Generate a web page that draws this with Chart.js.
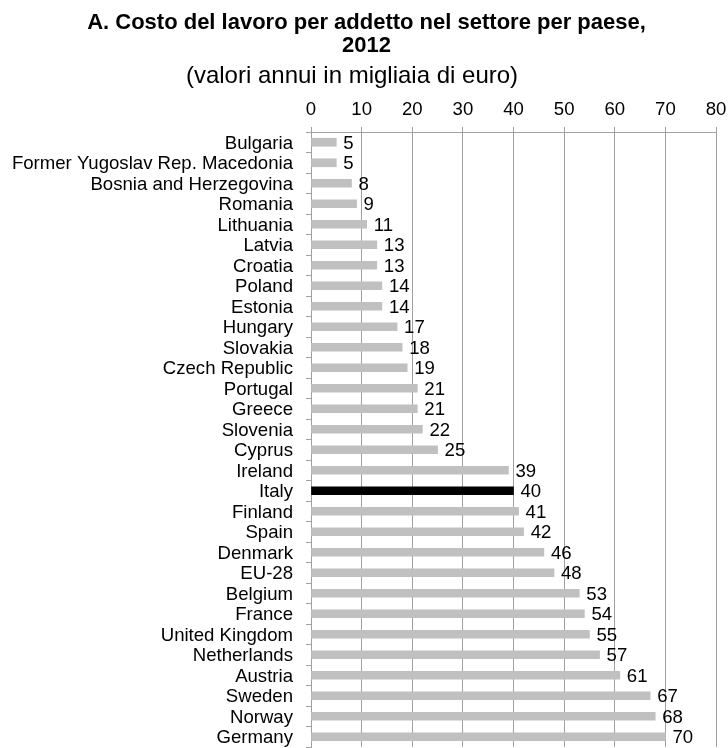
<!DOCTYPE html>
<html>
<head>
<meta charset="utf-8">
<script src="https://cdn.jsdelivr.net/npm/chart.js@4/dist/chart.umd.min.js"></script>
<style>
  html, body { margin: 0; padding: 0; background: #fff; }
  #wrap { position: relative; width: 728px; height: 748px; overflow: hidden;
          font-family: "Liberation Sans", Arial, sans-serif; color: #000; }
  #c { position: absolute; left: 0; top: 0; }
  #title { position: absolute; left: 0; width: 733px; top: 10px; text-align: center;
           font-weight: bold; font-size: 22px; line-height: 23px; }
  #subtitle { position: absolute; left: 0; width: 704px; top: 62px; text-align: center;
              font-size: 24px; line-height: 26px; }
</style>
</head>
<body>
<div id="wrap">
  <canvas id="c" width="728" height="748"></canvas>
  <div id="title">A. Costo del lavoro per addetto nel settore per paese,<br>2012</div>
  <div id="subtitle">(valori annui in migliaia di euro)</div>
</div>
<script>
// Labour cost per employee in the sector, 2012 (thousand euro per year)
const countries = [
  'Bulgaria', 'Former Yugoslav Rep. Macedonia', 'Bosnia and Herzegovina', 'Romania',
  'Lithuania', 'Latvia', 'Croatia', 'Poland', 'Estonia', 'Hungary', 'Slovakia',
  'Czech Republic', 'Portugal', 'Greece', 'Slovenia', 'Cyprus', 'Ireland', 'Italy',
  'Finland', 'Spain', 'Denmark', 'EU-28', 'Belgium', 'France', 'United Kingdom',
  'Netherlands', 'Austria', 'Sweden', 'Norway', 'Germany'
];
const values = [
  5, 5, 8, 9, 11, 13, 13, 14, 14, 17, 18, 19, 21, 21, 22, 25, 39, 40,
  41, 42, 46, 48, 53, 54, 55, 57, 61, 67, 68, 70
];
const highlighted = 'Italy';
const xTicks = [0, 10, 20, 30, 40, 50, 60, 70, 80];

const FONT = '"Liberation Sans", Arial, sans-serif';
const FONT_SIZE = 18.6;
const GRID = '#a0a0a0';
const barColors = countries.map(c => c === highlighted ? '#000000' : '#c0c0c0');

// writes each value just past the end of its bar
const valueLabels = {
  id: 'valueLabels',
  afterDatasetsDraw(chart) {
    const ctx = chart.ctx;
    const meta = chart.getDatasetMeta(0);
    ctx.save();
    ctx.font = FONT_SIZE + 'px ' + FONT;
    ctx.fillStyle = '#000';
    ctx.textAlign = 'left';
    ctx.textBaseline = 'middle';
    meta.data.forEach((bar, i) => {
      ctx.fillText(String(values[i]), bar.x + 7, bar.y + 1.5);
    });
    ctx.restore();
  }
};

new Chart(document.getElementById('c'), {
  type: 'bar',
  data: {
    labels: countries,
    datasets: [{
      data: values,
      backgroundColor: barColors,
      borderWidth: 0,
      barThickness: 8
    }]
  },
  options: {
    indexAxis: 'y',
    responsive: false,
    animation: false,
    events: [],
    layout: { padding: { top: 90, left: 0, right: 12, bottom: 1 } },
    plugins: { legend: { display: false }, tooltip: { enabled: false } },
    scales: {
      x: {
        position: 'top',
        min: 0,
        max: 80,
        afterBuildTicks(scale) { scale.ticks = xTicks.map(v => ({ value: v })); },
        ticks: { color: '#000', font: { family: FONT, size: FONT_SIZE }, padding: 6 },
        grid: { color: GRID, lineWidth: 1, tickLength: 5, drawTicks: true },
        border: { color: GRID },
        afterFit(scale) {
          scale.height = 42;
          scale.paddingLeft = 0;
          scale.paddingRight = 0;
        }
      },
      y: {
        ticks: {
          color: '#000', font: { family: FONT, size: FONT_SIZE },
          padding: 13, autoSkip: false, labelOffset: 1.5
        },
        grid: { drawOnChartArea: false, drawTicks: true, tickLength: 5, offset: true, color: GRID },
        border: { color: GRID },
        afterFit(scale) {
          scale.width = 311;
          scale.paddingTop = 0;
          scale.paddingBottom = 0;
        }
      }
    }
  },
  plugins: [valueLabels]
});
</script>
</body>
</html>
